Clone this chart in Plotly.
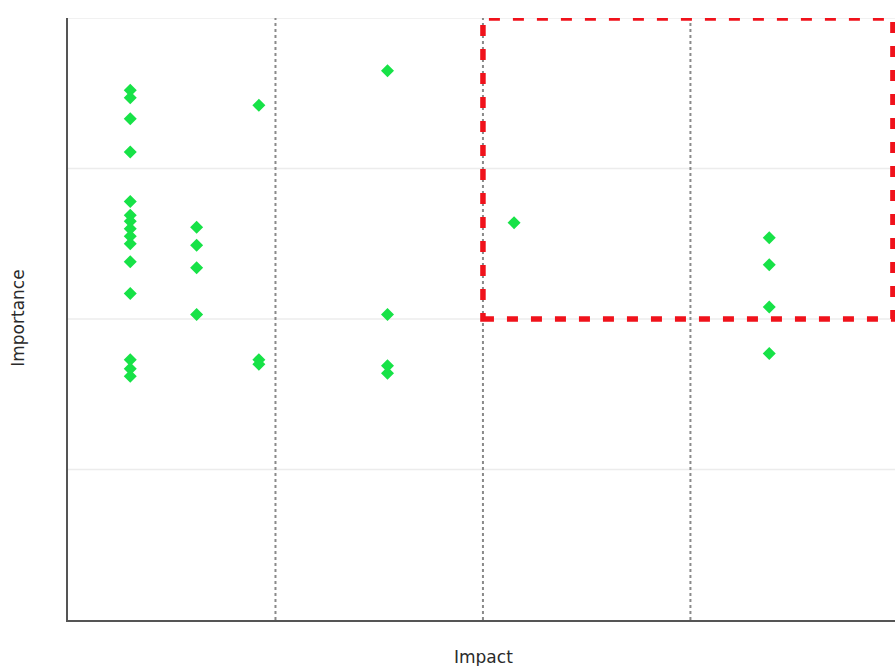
import plotly.graph_objects as go

# Data (Impact, Importance)
impact = [0.30] * 15 + [0.62] * 4 + [0.92] * 3 + [1.54] * 4 + [2.15] + [3.38] * 4
importance = [
    3.52, 3.47, 3.33, 3.11, 2.78, 2.69, 2.65, 2.60, 2.55, 2.50, 2.38, 2.17, 1.73, 1.67, 1.62,
    2.61, 2.49, 2.34, 2.03,
    3.42, 1.73, 1.70,
    3.65, 2.03, 1.69, 1.64,
    2.64,
    2.54, 2.36, 2.08, 1.77,
]

divider_x = [1, 2, 3]
grid_y = [1, 2, 3, 4]
highlight_x = [2, 3.976]
highlight_y = [2, 4]

fig = go.Figure()
fig.add_trace(go.Scatter(
    x=impact, y=importance, mode="markers",
    marker=dict(symbol="diamond", size=10, color="#17E247", line=dict(width=0)),
    showlegend=False, hoverinfo="skip",
))

for gy in grid_y:
    fig.add_shape(type="line", xref="paper", yref="y", x0=0, x1=1, y0=gy, y1=gy,
                  line=dict(color="#ECECEC", width=1.5), layer="below")
for dx in divider_x:
    fig.add_shape(type="line", xref="x", yref="paper", x0=dx, x1=dx, y0=0, y1=1,
                  line=dict(color="#8A8A8A", width=2, dash="dot"), layer="below")

fig.add_shape(type="rect", xref="x", yref="y",
              x0=highlight_x[0], x1=highlight_x[1], y0=highlight_y[0], y1=highlight_y[1],
              line=dict(color="#F0121B", width=5.5, dash="11px,13px"), fillcolor="rgba(0,0,0,0)")

fig.add_annotation(text="Impact", xref="paper", yref="paper", x=0.502, y=-0.0615,
                   showarrow=False, xanchor="center", yanchor="middle",
                   font=dict(family="DejaVu Sans", size=17, color="#2A2A2A"))
fig.add_annotation(text="Importance", xref="paper", yref="paper", x=-0.0605, y=0.502,
                   showarrow=False, textangle=-90, xanchor="center", yanchor="middle",
                   font=dict(family="DejaVu Sans", size=17, color="#2A2A2A"))

fig.update_layout(
    width=895, height=666,
    margin=dict(l=68, r=0, t=18, b=46),
    plot_bgcolor="white", paper_bgcolor="white",
    xaxis=dict(range=[0, 3.986], showgrid=False, zeroline=False, showticklabels=False,
               ticks="", showline=True, linecolor="#555555", linewidth=2, fixedrange=True),
    yaxis=dict(range=[0, 4], showgrid=False, zeroline=False, showticklabels=False,
               ticks="", showline=True, linecolor="#555555", linewidth=2, fixedrange=True),
)

fig.write_html(
    "out.html",
    config={"displayModeBar": False},
    post_script="document.body.style.margin='0';document.body.style.overflow='hidden';",
)
